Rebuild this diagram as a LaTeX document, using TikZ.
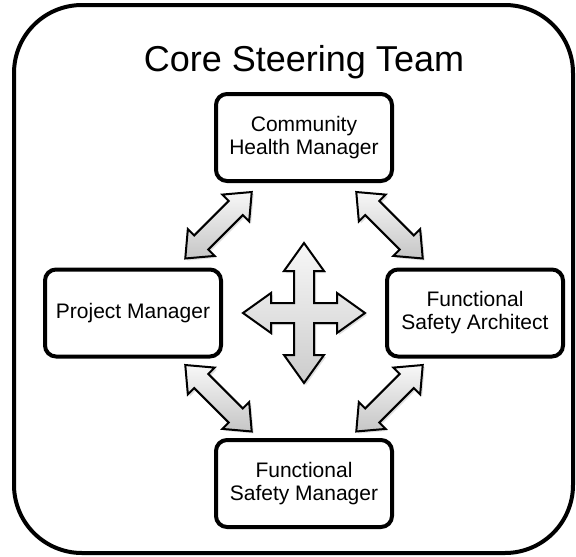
\documentclass[tikz,border=0pt]{standalone}
\usepackage{fontspec}
\setmainfont{Liberation Sans}
\usetikzlibrary{arrows.meta, shapes.arrows, positioning, calc, shadows}

\begin{document}
\begin{tikzpicture}[x=1pt, y=-1pt,
  role/.style={rectangle, draw=black, line width=4pt, fill=white, rounded corners=11pt,
              minimum width=176pt, minimum height=87pt, align=center,
              font=\fontsize{21}{23}\selectfont},
  link/.style={double arrow, draw=black, line width=2pt, rotate=#1,
               inner xsep=0pt, inner ysep=9pt,
               minimum height=94pt, minimum width=36pt, double arrow head extend=9pt,
               double arrow tip angle=80, top color=gray!6, bottom color=gray!45,
               drop shadow={opacity=0.25, shadow xshift=2pt, shadow yshift=-2pt}},
  hubarrow/.style={draw=black, line width=2pt, line join=miter,
                   top color=gray!6, bottom color=gray!40,
                   drop shadow={opacity=0.25, shadow xshift=2pt, shadow yshift=-2pt}},
  heading/.style={font=\fontsize{36}{40}\selectfont}
]
\useasboundingbox (0,0) rectangle (576,557);
% team frame and name
\draw[line width=4pt, rounded corners=68pt] (14,5) rectangle (573,553);
\node[heading, anchor=base] (team) at (304,71) {Core Steering Team};

\coordinate (hub) at (304,313);
\node[role, above=130pt of hub] (chm) {Community\\Health Manager};
\node[role, left=81pt of hub]   (pm)  {Project Manager};
\node[role, right=81pt of hub]  (fsa) {Functional\\Safety Architect};
\node[role, below=125pt of hub] (fsm) {Functional\\Safety Manager};

% two-way links between neighbouring roles
\node[link=45]  (chm-pm)  at ($(chm.south west)!0.5!(pm.north east)$)  {};
\node[link=-45] (chm-fsa) at ($(chm.south east)!0.5!(fsa.north west)$) {};
\node[link=-45] (pm-fsm)  at ($(pm.south east)!0.5!(fsm.north west)$)  {};
\node[link=45]  (fsa-fsm) at ($(fsa.south west)!0.5!(fsm.north east)$) {};

% four-way arrow in the middle
\draw[hubarrow, shift={(hub)}] (0,-70) -- (20,-42) -- (10,-42) -- (10,-10) -- (33,-10)
  -- (33,-20) -- (61,0) -- (33,20) -- (33,10) -- (10,10) -- (10,42) -- (20,42) -- (0,70)
  -- (-20,42) -- (-10,42) -- (-10,10) -- (-33,10) -- (-33,20) -- (-61,0) -- (-33,-20)
  -- (-33,-10) -- (-10,-10) -- (-10,-42) -- (-20,-42) -- cycle;
\end{tikzpicture}
\end{document}
